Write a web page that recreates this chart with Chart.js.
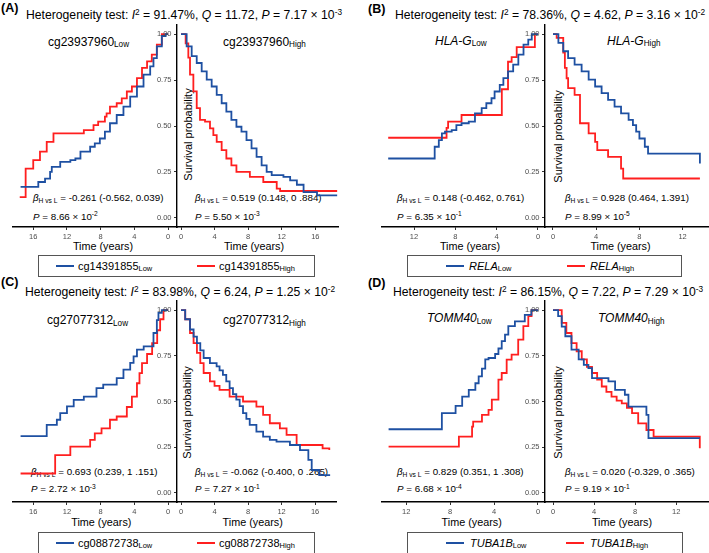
<!DOCTYPE html>
<html>
<head>
<meta charset="utf-8">
<script src="https://cdn.jsdelivr.net/npm/chart.js@4.4.0/dist/chart.umd.min.js"></script>
<style>
body{margin:0;background:#fff;width:709px;height:553px;position:relative;overflow:hidden;font-family:"Liberation Sans",Arial,sans-serif;}
canvas{position:absolute;}
.t{position:absolute;white-space:nowrap;color:#000;line-height:1;}
.t sub{font-size:0.68em;vertical-align:baseline;position:relative;top:0.22em;}
.t sup{font-size:0.68em;vertical-align:baseline;position:relative;top:-0.48em;}
.box{position:absolute;border:1px solid #555;box-sizing:border-box;}
.seg{position:absolute;height:2px;}
</style>
</head>
<body>
<script>
// tick values
const xTicks16 = [0, 4, 8, 12, 16];
const xTicks12 = [0, 4, 8, 12];
const yTicks = [0, 0.25, 0.5, 0.75, 1];

// survival curves, [time in years, survival probability]
// (A) cg23937960
const aLowBlue = [[0,1],[0.3,0.99],[0.75,0.934],[1.34,0.87],[1.74,0.825],[2.13,0.78],[2.92,0.715],[3.7,0.66],[4.5,0.606],[5.3,0.56],[6.1,0.515],[6.9,0.469],[7.5,0.432],[8.1,0.405],[8.7,0.387],[9.25,0.36],[10.4,0.323],[11.0,0.314],[11.6,0.305],[12.8,0.277],[13.8,0.25],[14.0,0.213],[14.6,0.195],[15.4,0.168],[17.5,0.168]];
const aLowRed = [[0,1],[0.75,0.943],[1.34,0.889],[1.94,0.852],[2.5,0.816],[3.1,0.761],[3.7,0.715],[4.3,0.688],[4.9,0.65],[5.5,0.624],[6.1,0.606],[6.9,0.569],[7.3,0.551],[7.5,0.524],[8.3,0.505],[8.85,0.478],[10.0,0.46],[13.6,0.414],[14.4,0.36],[15.2,0.314],[16.0,0.268],[16.9,0.113],[17.6,0.113]];
const aHighBlue = [[0,1],[0.67,0.934],[1.27,0.88],[1.87,0.843],[2.46,0.797],[3.06,0.752],[3.65,0.715],[4.25,0.67],[4.84,0.624],[5.4,0.578],[6.0,0.533],[6.6,0.496],[7.2,0.469],[7.8,0.423],[8.4,0.378],[9.0,0.332],[9.6,0.286],[10.2,0.25],[10.8,0.232],[12.2,0.223],[13.0,0.204],[13.8,0.18],[14.6,0.14],[16.2,0.122],[18.6,0.122]];
const aHighRed = [[0,1],[0.55,0.95],[0.87,0.872],[1.07,0.78],[1.47,0.689],[1.87,0.597],[2.26,0.533],[2.86,0.524],[3.45,0.487],[3.85,0.45],[4.25,0.414],[4.84,0.369],[5.4,0.323],[6.0,0.286],[6.6,0.25],[8.2,0.223],[9.8,0.195],[11.4,0.159],[11.8,0.146],[18.6,0.146]];
// (B) HLA-G
const bLowBlue = [[0,1],[0.6,0.97],[0.94,0.943],[1.4,0.889],[1.9,0.834],[2.4,0.797],[2.9,0.761],[3.35,0.724],[3.7,0.688],[4.2,0.651],[4.5,0.624],[5.0,0.597],[5.45,0.569],[6.1,0.524],[6.7,0.515],[7.4,0.505],[7.9,0.478],[8.35,0.469],[9.0,0.46],[9.3,0.423],[9.6,0.387],[10.0,0.323],[14.5,0.323]];
const bLowRed = [[0,1],[0.3,0.93],[2.06,0.875],[2.55,0.85],[2.9,0.7],[3.5,0.56],[7.4,0.524],[8.7,0.49],[8.85,0.436],[14.5,0.436]];
const bHighBlue = [[0,1],[0.5,0.953],[0.95,0.907],[1.4,0.87],[2.0,0.834],[2.65,0.797],[3.3,0.752],[3.9,0.715],[4.5,0.679],[5.1,0.642],[5.7,0.606],[6.3,0.569],[7.0,0.533],[7.4,0.505],[7.7,0.469],[8.0,0.432],[8.5,0.387],[8.8,0.35],[13.6,0.296]];
const bHighRed = [[0,1],[0.34,0.98],[0.95,0.9],[1.1,0.816],[1.26,0.76],[1.4,0.706],[2.0,0.67],[2.5,0.515],[3.3,0.46],[3.9,0.414],[4.1,0.369],[5.1,0.332],[6.3,0.268],[6.5,0.214],[13.6,0.214]];
// (C) cg27077312
const cLowBlue = [[0,1],[0.75,0.985],[1.15,0.945],[1.34,0.875],[1.74,0.802],[2.9,0.784],[3.7,0.747],[4.1,0.711],[4.5,0.674],[5.3,0.628],[6.1,0.592],[7.7,0.573],[8.5,0.527],[10.0,0.509],[11.2,0.473],[12.0,0.436],[12.8,0.4],[13.2,0.372],[14.4,0.311],[17.5,0.311]];
const cLowRed = [[0,1],[0.55,0.95],[0.95,0.89],[1.3,0.82],[1.9,0.76],[2.5,0.71],[3.1,0.655],[3.4,0.6],[3.7,0.527],[4.3,0.47],[4.9,0.418],[6.1,0.4],[6.9,0.353],[7.9,0.326],[8.7,0.29],[9.25,0.253],[11.6,0.207],[13.4,0.106],[17.5,0.106]];
const cHighBlue = [[0,1],[0.5,0.95],[1.07,0.894],[1.5,0.855],[1.9,0.82],[2.3,0.78],[2.7,0.738],[3.45,0.71],[4.25,0.692],[4.6,0.67],[5.0,0.646],[5.4,0.61],[5.8,0.573],[6.2,0.54],[6.6,0.51],[7.0,0.475],[7.4,0.436],[7.8,0.405],[8.2,0.372],[9.0,0.335],[9.8,0.308],[10.6,0.29],[11.4,0.28],[13.0,0.262],[14.2,0.234],[15.2,0.18],[15.6,0.125],[16.5,0.097],[17.8,0.097]];
const cHighRed = [[0,1],[0.5,0.95],[1.07,0.875],[1.5,0.82],[1.9,0.766],[2.3,0.71],[2.7,0.656],[3.45,0.61],[4.0,0.585],[4.6,0.564],[5.8,0.527],[7.4,0.5],[9.0,0.472],[9.8,0.427],[10.6,0.381],[11.8,0.353],[12.6,0.317],[13.8,0.262],[16.9,0.244],[17.7,0.234]];
// (D) TOMM40
const dLowBlue = [[0,1],[0.6,0.974],[1.2,0.938],[2.1,0.912],[2.7,0.866],[3.0,0.83],[3.3,0.79],[3.6,0.76],[3.9,0.738],[4.5,0.73],[4.8,0.68],[5.1,0.637],[5.4,0.6],[5.7,0.564],[6.3,0.527],[6.9,0.476],[7.5,0.436],[8.75,0.348],[13.6,0.348]];
const dLowRed = [[0,1],[0.58,0.967],[0.88,0.912],[1.33,0.839],[1.8,0.756],[2.4,0.729],[2.85,0.656],[3.3,0.62],[3.6,0.51],[4.2,0.454],[4.5,0.427],[5.1,0.39],[5.9,0.363],[6.0,0.308],[7.2,0.253],[13.6,0.253]];
const dHighBlue = [[0,1],[0.5,0.967],[0.85,0.91],[1.2,0.857],[1.8,0.784],[2.5,0.73],[3.0,0.7],[3.45,0.683],[3.8,0.628],[5.4,0.61],[6.05,0.564],[7.0,0.537],[7.35,0.472],[9.1,0.427],[9.3,0.3],[14.3,0.3]];
const dHighRed = [[0,1],[0.85,0.93],[1.3,0.875],[1.8,0.82],[2.3,0.775],[2.8,0.73],[3.3,0.69],[3.8,0.656],[4.3,0.62],[4.75,0.582],[5.2,0.553],[5.7,0.527],[6.2,0.505],[6.7,0.49],[7.2,0.465],[7.7,0.436],[8.3,0.38],[9.1,0.344],[9.8,0.308],[14.3,0.244]];

const BLUE = '#1E50A2', RED = '#FF1F1F';
const FONT = '"Liberation Sans", Arial, sans-serif';
Chart.defaults.font.family = FONT;

const P = 14, XH = 18, YW = 30;

function label(x, y, html, size, align, extra) {
    const d = document.createElement('div');
    d.className = 't';
    d.innerHTML = html;
    d.style.fontSize = size + 'px';
    d.style.left = x + 'px';
    d.style.top = (y - size / 2) + 'px';
    if (align === 'c') d.style.transform = 'translateX(-50%)';
    if (extra) Object.assign(d.style, extra);
    document.body.appendChild(d);
}

function drawKM(geo, top, bottom, ticks, blueData, redData, isLeft) {
    const yw = isLeft ? 0 : YW;
    const cv = document.createElement('canvas');
    const w = geo.x1 - geo.x0 + 2 * P + yw;
    const h = bottom - top + XH + 2 * P;
    cv.width = w; cv.height = h;
    cv.style.left = (geo.x0 - P - yw) + 'px';
    cv.style.top = (top - P) + 'px';
    cv.style.width = w + 'px';
    cv.style.height = h + 'px';
    document.body.appendChild(cv);

    const toXY = arr => arr.map(p => ({x: p[0], y: p[1]}));
    const grid = {drawOnChartArea: false, drawTicks: true, tickLength: 3, tickColor: '#333', tickWidth: 1};
    const border = {display: true, color: '#000', width: 1.4};
    new Chart(cv, {
        type: 'line',
        data: {
            datasets: [
                {data: toXY(blueData), borderColor: BLUE},
                {data: toXY(redData), borderColor: RED}
            ]
        },
        options: {
            responsive: false,
            animation: false,
            devicePixelRatio: 1,
            layout: {padding: P},
            plugins: {legend: {display: false}, tooltip: {enabled: false}},
            elements: {
                point: {radius: 0},
                line: {borderWidth: 1.8, stepped: true, tension: 0}
            },
            scales: {
                x: {
                    type: 'linear',
                    min: geo.min,
                    max: geo.max,
                    reverse: isLeft,
                    afterBuildTicks: s => { s.ticks = ticks.map(v => ({value: v})); },
                    afterFit: s => { s.height = XH; },
                    ticks: {color: '#4D4D4D', font: {size: 7.5}, padding: 2.5, maxRotation: 0, autoSkip: false, callback: v => String(v)},
                    grid: grid,
                    border: border
                },
                y: {
                    type: 'linear',
                    display: !isLeft,
                    min: -0.05,
                    max: 1.05,
                    afterBuildTicks: s => { s.ticks = yTicks.map(v => ({value: v})); },
                    afterFit: s => { s.width = isLeft ? 0 : YW; },
                    ticks: {color: '#4D4D4D', font: {size: 7.5}, padding: 2.5, callback: v => v.toFixed(2)},
                    grid: grid,
                    border: border
                }
            }
        }
    });
}

const panels = [
    {
        tag: '(A)', tagX: 1, tagY: 8,
        title: 'Heterogeneity test: <i>I</i><sup>2</sup> = 91.47%, <i>Q</i> = 11.72, <i>P</i> = 7.17 × 10<sup>-3</sup>',
        titleX: 184, titleY: 14.7,
        top: 25, bottom: 227,
        left: {x0: 13, x1: 177, min: -1.05, max: 18.4}, right: {x0: 177, x1: 338, min: -0.48, max: 18.7},
        lTicks: xTicks16, rTicks: xTicks16,
        curves: [aLowBlue, aLowRed, aHighBlue, aHighRed],
        lowName: 'cg23937960<sub>Low</sub>', lowX: 48, highName: 'cg23937960<sub>High</sub>', highX: 223, nameY: 41.5,
        betaL: '<i>β</i><sub>H vs L</sub> = -0.261 (-0.562, 0.039)', pL: '<i>P</i> = 8.66 × 10<sup>-2</sup>', statLX: 33,
        betaR: '<i>β</i><sub>H vs L</sub> = 0.519 (0.148, 0 .884)', pR: '<i>P</i> = 5.50 × 10<sup>-3</sup>', statRX: 195,
        betaY: 198, pY: 216.5,
        survX: 187.5, survY: 134,
        timeL: 103, timeR: 254, timeY: 246.5,
        box: {x: 38, y: 255, w: 277, h: 22},
        legBlue: 'cg14391855<sub>Low</sub>', legRed: 'cg14391855<sub>High</sub>',
        segB: 56, txtB: 78, segR: 197, txtR: 219
    },
    {
        tag: '(B)', tagX: 368, tagY: 9,
        title: 'Heterogeneity test: <i>I</i><sup>2</sup> = 78.36%, <i>Q</i> = 4.62, <i>P</i> = 3.16 × 10<sup>-2</sup>',
        titleX: 550, titleY: 14.7,
        top: 25, bottom: 227,
        left: {x0: 382, x1: 545, min: -0.68, max: 15.1}, right: {x0: 545, x1: 708, min: -0.74, max: 14.35},
        lTicks: xTicks12, rTicks: xTicks12,
        curves: [bLowBlue, bLowRed, bHighBlue, bHighRed],
        lowName: '<i>HLA-G</i><sub>Low</sub>', lowX: 435, highName: '<i>HLA-G</i><sub>High</sub>', highX: 607, nameY: 40.5,
        betaL: '<i>β</i><sub>H vs L</sub> = 0.148 (-0.462, 0.761)', pL: '<i>P</i> = 6.35 × 10<sup>-1</sup>', statLX: 397,
        betaR: '<i>β</i><sub>H vs L</sub> = 0.928 (0.464, 1.391)', pR: '<i>P</i> = 8.99 × 10<sup>-5</sup>', statRX: 565,
        betaY: 198, pY: 216.5,
        survX: 558, survY: 136,
        timeL: 470, timeR: 620.5, timeY: 246.5,
        box: {x: 407, y: 255, w: 275, h: 22},
        legBlue: '<i>RELA</i><sub>Low</sub>', legRed: '<i>RELA</i><sub>High</sub>',
        segB: 446, txtB: 469, segR: 567, txtR: 590
    },
    {
        tag: '(C)', tagX: 1, tagY: 282.5,
        title: 'Heterogeneity test: <i>I</i><sup>2</sup> = 83.98%, <i>Q</i> = 6.24, <i>P</i> = 1.25 × 10<sup>-2</sup>',
        titleX: 180, titleY: 292,
        top: 301, bottom: 502,
        left: {x0: 13, x1: 177, min: -1.05, max: 18.4}, right: {x0: 177, x1: 336, min: -0.48, max: 18.5},
        lTicks: xTicks16, rTicks: xTicks16,
        curves: [cLowBlue, cLowRed, cHighBlue, cHighRed],
        lowName: 'cg27077312<sub>Low</sub>', lowX: 47, highName: 'cg27077312<sub>High</sub>', highX: 223, nameY: 320,
        betaL: '<i>β</i><sub>H vs L</sub> = 0.693 (0.239, 1 .151)', pL: '<i>P</i> = 2.72 × 10<sup>-3</sup>', statLX: 31,
        betaR: '<i>β</i><sub>H vs L</sub> = -0.062 (-0.400, 0 .265)', pR: '<i>P</i> = 7.27 × 10<sup>-1</sup>', statRX: 195,
        betaY: 472, pY: 489.3,
        survX: 187, survY: 412,
        timeL: 101.3, timeR: 252.7, timeY: 522,
        box: {x: 38, y: 532, w: 277, h: 22},
        legBlue: 'cg08872738<sub>Low</sub>', legRed: 'cg08872738<sub>High</sub>',
        segB: 56, txtB: 78, segR: 197, txtR: 219
    },
    {
        tag: '(D)', tagX: 368, tagY: 283,
        title: 'Heterogeneity test: <i>I</i><sup>2</sup> = 86.15%, <i>Q</i> = 7.22, <i>P</i> = 7.29 × 10<sup>-3</sup>',
        titleX: 548, titleY: 292,
        top: 301, bottom: 502,
        left: {x0: 382, x1: 545, min: -0.64, max: 14.2}, right: {x0: 545, x1: 708, min: -0.78, max: 15.1},
        lTicks: xTicks12, rTicks: xTicks12,
        curves: [dLowBlue, dLowRed, dHighBlue, dHighRed],
        lowName: '<i>TOMM40</i><sub>Low</sub>', lowX: 427, highName: '<i>TOMM40</i><sub>High</sub>', highX: 598, nameY: 318,
        betaL: '<i>β</i><sub>H vs L</sub> = 0.829 (0.351, 1 .308)', pL: '<i>P</i> = 6.68 × 10<sup>-4</sup>', statLX: 397,
        betaR: '<i>β</i><sub>H vs L</sub> = 0.020 (-0.329, 0 .365)', pR: '<i>P</i> = 9.19 × 10<sup>-1</sup>', statRX: 565,
        betaY: 472, pY: 489.3,
        survX: 557.5, survY: 412,
        timeL: 471.7, timeR: 622, timeY: 522,
        box: {x: 407, y: 532, w: 276, h: 22},
        legBlue: '<i>TUBA1B</i><sub>Low</sub>', legRed: '<i>TUBA1B</i><sub>High</sub>',
        segB: 446, txtB: 470, segR: 566, txtR: 590
    }
];

panels.forEach(p => {
    // text first, curves drawn over it
    label(p.tagX, p.tagY, p.tag, 12.5, 'l', {fontWeight: 'bold'});
    label(p.titleX, p.titleY, p.title, 12.2, 'c');
    label(p.lowX, p.nameY, p.lowName, 12, 'l');
    label(p.highX, p.nameY, p.highName, 12, 'l');
    label(p.statLX, p.betaY, p.betaL, 9.8, 'l');
    label(p.statLX, p.pY, p.pL, 9.8, 'l');
    label(p.statRX, p.betaY, p.betaR, 9.8, 'l');
    label(p.statRX, p.pY, p.pR, 9.8, 'l');
    label(p.survX, p.survY, 'Survival probability', 11, 'l',
        {transform: 'translate(-50%, 0) rotate(-90deg)', transformOrigin: '50% 50%', left: p.survX + 'px'});
    label(p.timeL, p.timeY, 'Time (years)', 10.8, 'c');
    label(p.timeR, p.timeY, 'Time (years)', 10.8, 'c');

    const b = document.createElement('div');
    b.className = 'box';
    Object.assign(b.style, {left: p.box.x + 'px', top: p.box.y + 'px', width: p.box.w + 'px', height: p.box.h + 'px'});
    document.body.appendChild(b);
    const midY = p.box.y + p.box.h / 2;
    [[p.segB, BLUE], [p.segR, RED]].forEach(([x, c]) => {
        const s = document.createElement('div');
        s.className = 'seg';
        Object.assign(s.style, {left: x + 'px', top: (midY - 1) + 'px', width: '18px', background: c});
        document.body.appendChild(s);
    });
    label(p.txtB, midY, p.legBlue, 11, 'l');
    label(p.txtR, midY, p.legRed, 11, 'l');

    drawKM(p.left, p.top, p.bottom, p.lTicks, p.curves[0], p.curves[1], true);
    drawKM(p.right, p.top, p.bottom, p.rTicks, p.curves[2], p.curves[3], false);
});
</script>
</body>
</html>
